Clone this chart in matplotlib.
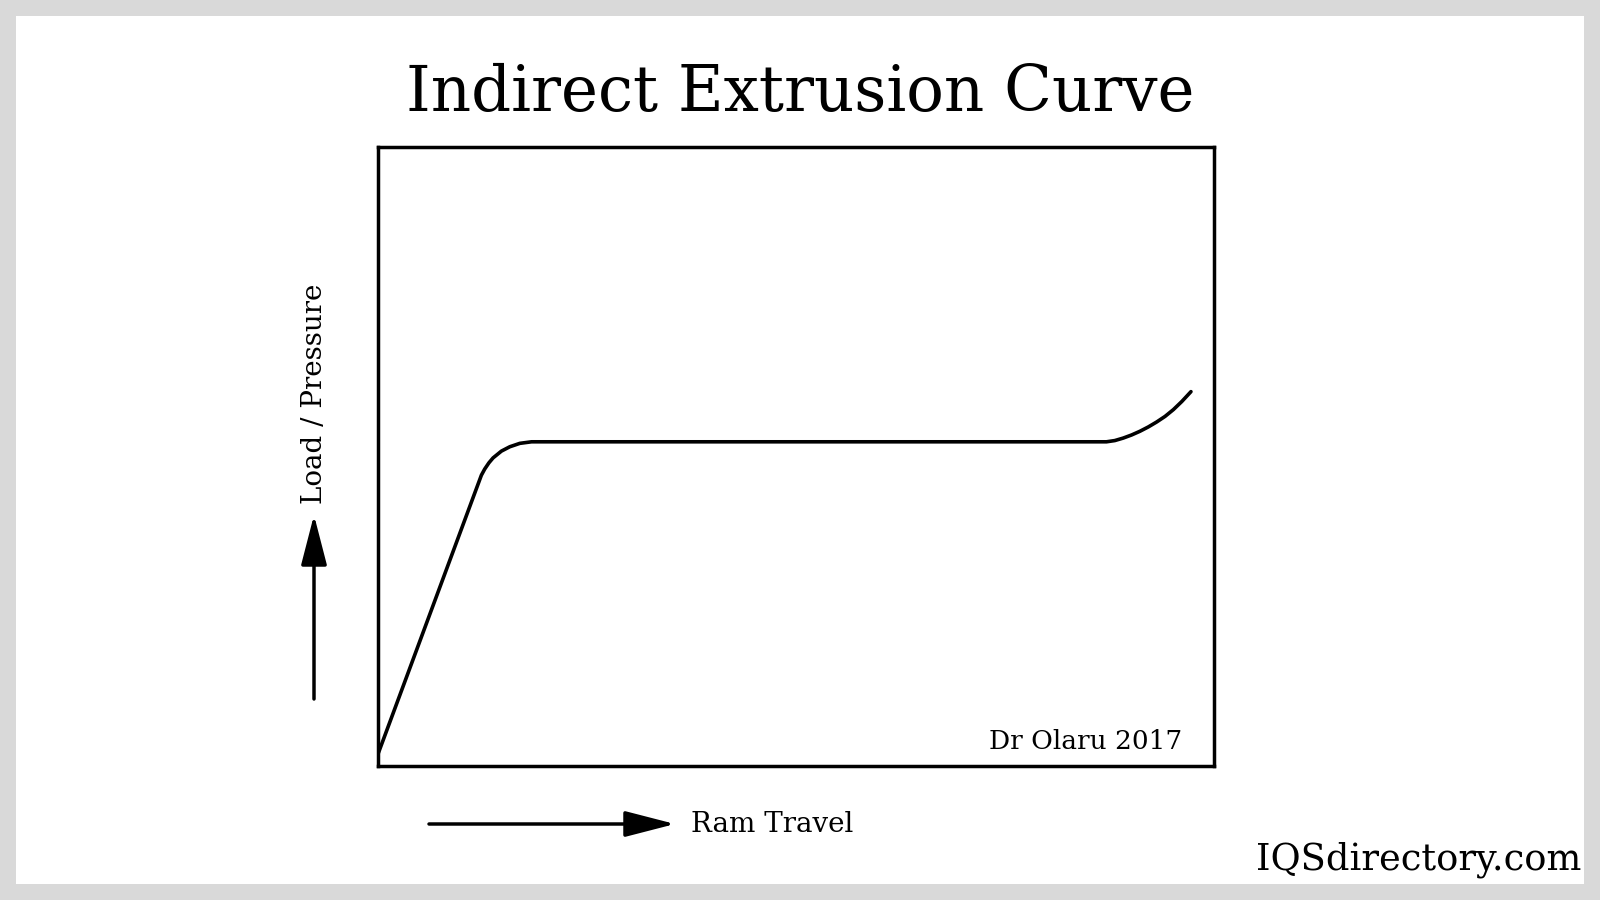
import matplotlib.pyplot as plt
from matplotlib.patches import Rectangle

# curve, in % of the plot box
ram_travel = [0.0, 12.4, 12.8, 13.3, 13.8, 14.8, 15.8, 17.0, 18.4,
              87.1, 88.1, 89.1, 90.1, 91.1, 92.1, 93.1, 94.1, 95.1, 96.1, 97.2]
load = [1.8, 47.0, 48.0, 49.0, 49.8, 50.9, 51.6, 52.15, 52.4,
        52.4, 52.6, 53.0, 53.5, 54.1, 54.8, 55.6, 56.5, 57.6, 58.9, 60.5]

title = "Indirect Extrusion Curve"
x_label = "Ram Travel"
y_label = "Load / Pressure"
credit = "Dr Olaru 2017"
site = "IQSdirectory.com"

plt.rcParams['font.family'] = ['DejaVu Serif']

fig = plt.figure(figsize=(16, 9), dpi=100)
fig.patch.set_facecolor('#d9d9d9')
fig.patches.append(Rectangle((16 / 1600, 16 / 900), 1568 / 1600, 868 / 900,
                             transform=fig.transFigure, facecolor='white',
                             edgecolor='none', zorder=-5))

ax = fig.add_axes([0.236, 0.1486, 0.523, 0.688])
ax.plot(ram_travel, load, color='black', lw=2.6, solid_capstyle='round',
        solid_joinstyle='round')
ax.set_xlim(0, 100)
ax.set_ylim(0, 100)
ax.set_xticks([])
ax.set_yticks([])
for s in ax.spines.values():
    s.set_linewidth(2.5)

ax.text(0.961, 0.04, credit, transform=ax.transAxes, ha='right', va='center',
        fontsize=19)

fig.text(0.5, 0.896, title, ha='center', va='center', fontsize=45)

# axis arrows
head = dict(arrowstyle='-|>,head_length=31,head_width=8', mutation_scale=1,
            lw=2.5, color='black', shrinkA=0, shrinkB=0)
ax.annotate('', xy=(314 / 1600, 1 - 515 / 900), xytext=(314 / 1600, 1 - 699 / 900),
            xycoords='figure fraction', arrowprops=head)
ax.annotate('', xy=(675 / 1600, 1 - 824 / 900), xytext=(429 / 1600, 1 - 824 / 900),
            xycoords='figure fraction', arrowprops=head)

fig.text(314 / 1600, 1 - 394 / 900, y_label, rotation=90, ha='center',
         va='center', fontsize=20)
fig.text(691 / 1600, 1 - 824 / 900, x_label, ha='left', va='center',
         fontsize=20)
fig.text(1581 / 1600, 1 - 860 / 900, site, ha='right', va='center',
         fontsize=26.5)

fig.savefig('out.png', dpi=100, facecolor=fig.get_facecolor())
